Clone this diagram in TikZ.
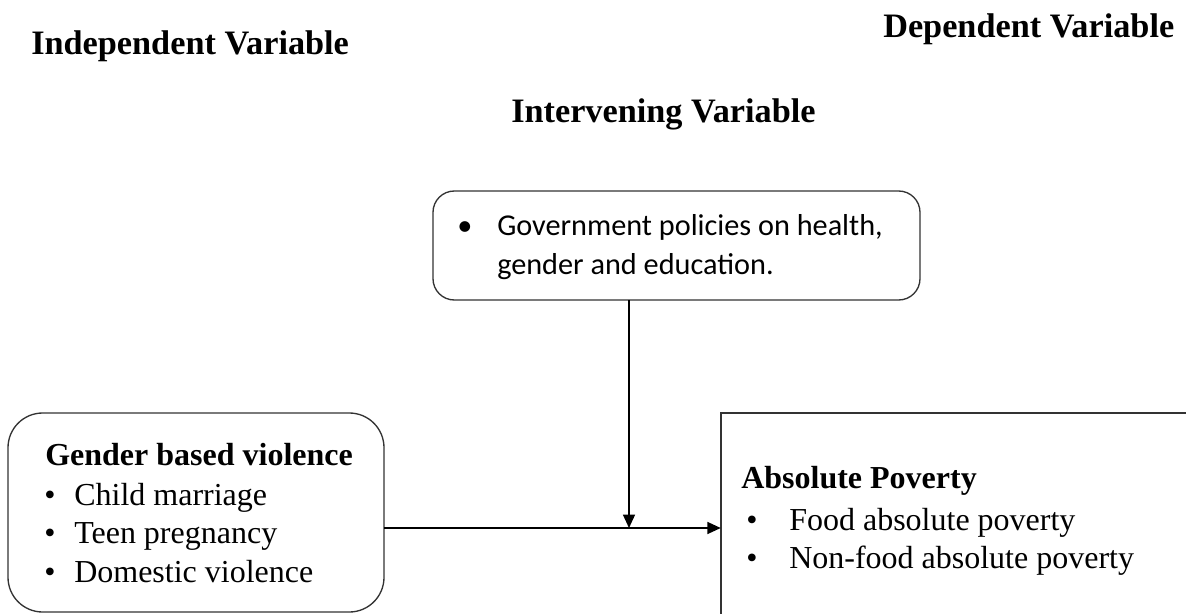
\documentclass[tikz,border=0pt]{standalone}
\usepackage{fontspec}
\setmainfont{Liberation Serif}
\newfontfamily\calfont{Carlito}
\usetikzlibrary{arrows.meta}
\tikzset{
  head/.style={font=\bfseries\fontsize{25.7}{30}\selectfont, anchor=base west, inner sep=0pt},
  txt/.style={font=\fontsize{24}{28}\selectfont, anchor=base west, inner sep=0pt},
  btxt/.style={font=\bfseries\fontsize{24}{28}\selectfont, anchor=base west, inner sep=0pt},
  gtxt/.style={font=\calfont\fontsize{22.7}{27}\selectfont, anchor=base west, inner sep=0pt},
  bul/.style={font=\fontsize{24}{28}\selectfont, anchor=base, inner sep=0pt},
  frame/.style={draw=black!80, line width=1pt},
  conn/.style={draw=black, line width=1pt, -{Triangle[length=10pt,width=9pt]}},
}
\begin{document}
\begin{tikzpicture}[x=0.75pt,y=-0.75pt]
\useasboundingbox (0,0) rectangle (1186,614);
\clip (0,0) rectangle (1186,614);

% headings
\node[head] (hindep) at (31,55) {Independent Variable};
\node[head] (hdep) at (883,37) {Dependent Variable};
\node[head] (hint) at (511,122) {Intervening Variable};

% boxes
\draw[frame, rounded corners=26pt] (8,413) rectangle (384,612);
\node[inner sep=0pt, minimum width=376*0.75pt, minimum height=199*0.75pt] (gbv) at (196,512.5) {};
\draw[frame, rounded corners=16pt] (433,191) rectangle (920,300);
\node[inner sep=0pt, minimum width=487*0.75pt, minimum height=109*0.75pt] (gov) at (676.5,245.5) {};
\draw[frame] (1200,413) -- (721,413) -- (721,640);
\node[inner sep=0pt, minimum width=479*0.75pt, minimum height=227*0.75pt] (pov) at (960.5,526.5) {};

% government text
\node[bul, font=\calfont\fontsize{22.7}{27}\selectfont] (gb1) at (465,235) {•};
\node[gtxt] (g1) at (497,235) {Government policies on health,};
\node[gtxt] (g2) at (497,274) {gender and education.};

% left text
\node[btxt] (lt) at (45,465) {Gender based violence};
\node[bul] (lb1) at (50,505) {•};
\node[txt] (l1) at (74,505) {Child marriage};
\node[bul] (lb2) at (50,543) {•};
\node[txt] (l2) at (74,543) {Teen pregnancy};
\node[bul] (lb3) at (50,582) {•};
\node[txt] (l3) at (74,582) {Domestic violence};

% right text
\node[btxt] (rt) at (741,488) {Absolute Poverty};
\node[bul] (rb1) at (752,530) {•};
\node[txt] (r1) at (789,530) {Food absolute poverty};
\node[bul] (rb2) at (752,568) {•};
\node[txt] (r2) at (789,568) {Non-food absolute poverty};

% connectors
\coordinate (j) at (629,528);
\draw[conn] (gov.south -| j) -- (j);
\draw[conn] (gbv.east |- j) -- (pov.west |- j);
\end{tikzpicture}
\end{document}
